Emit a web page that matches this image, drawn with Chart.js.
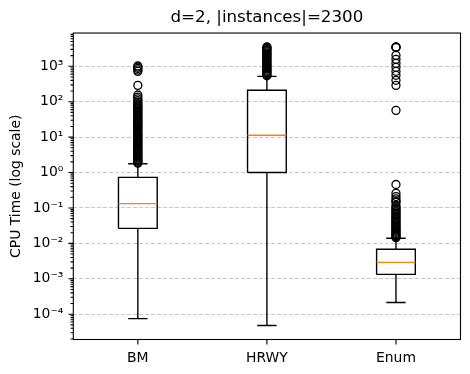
<!DOCTYPE html>
<html>
<head>
<meta charset="utf-8">
<script src="https://cdn.jsdelivr.net/npm/chart.js@4.4.0/dist/chart.umd.min.js"></script>
<style>
  html, body { margin: 0; padding: 0; background: #fff; }
  #wrap { width: 470px; height: 374px; }
</style>
</head>
<body>
<div id="wrap"><canvas id="boxChart"></canvas></div>
<script>
// Box plot data (CPU seconds)
const labels = ['BM', 'HRWY', 'Enum'];
const positions = [1, 2, 3];
const whiskerLow = [0.000075, 0.000048, 0.000215];
const q1 = [0.0265, 1.0, 0.00133];
const median = [0.133, 11.3, 0.0029];
const q3 = [0.73, 210, 0.0068];
const whiskerHigh = [1.78, 520, 0.014];

const bmOutliers = [1.85, 1.95, 2.1, 2.25, 2.4, 2.6, 2.8, 3.0, 3.25, 3.5, 3.8, 4.1, 4.4, 4.8, 5.2,
  5.6, 6.0, 6.5, 7.0, 7.6, 8.2, 8.9, 9.6, 10.4, 11.2, 12.1, 13.1, 14.2, 15.4, 16.6, 18, 19.5,
  21, 22.7, 24.5, 26.5, 28.7, 31, 33.5, 36, 39, 42, 46, 50, 54, 58, 63, 68, 74, 80, 88, 97,
  108, 120, 135, 155, 290, 720, 790, 870, 950, 1020];
const hrwyOutliers = [540, 580, 620, 670, 720, 780, 840, 910, 980, 1060, 1150, 1250, 1350, 1460,
  1580, 1710, 1850, 2000, 2170, 2350, 2550, 2750, 2980, 3200, 3400, 3520];
const enumOutliers = [0.0145, 0.0155, 0.0165, 0.0175, 0.019, 0.0205, 0.022, 0.024, 0.026, 0.028,
  0.030, 0.033, 0.036, 0.039, 0.042, 0.046, 0.050, 0.055, 0.060, 0.066, 0.072, 0.079, 0.087,
  0.095, 0.105, 0.118, 0.144, 0.155, 0.18, 0.21, 0.26, 0.46, 57, 290, 402, 557, 722, 937, 1215,
  1575, 2040, 3400, 3480, 3520];
const outliers = [bmOutliers, hrwyOutliers, enumOutliers];

const yTickExponents = [-5, -4, -3, -2, -1, 0, 1, 2, 3];

const FONT = "'DejaVu Sans', sans-serif";
const boxWidth = 0.3;

function isPow10(v) {
  const l = Math.log10(v);
  return Math.abs(l - Math.round(l)) < 1e-9;
}

const supMap = { '-': '\u207B', '0': '\u2070', '1': '\u00B9', '2': '\u00B2', '3': '\u00B3',
  '4': '\u2074', '5': '\u2075', '6': '\u2076', '7': '\u2077', '8': '\u2078', '9': '\u2079' };
function sup(n) {
  return String(n).split('').map(c => supMap[c]).join('');
}

// line segment dataset helper
function seg(points, color) {
  return {
    data: points,
    showLine: true,
    borderColor: color,
    borderWidth: 1.4,
    pointRadius: 0,
    fill: false,
    tension: 0,
  };
}

const datasets = [];
positions.forEach((p, i) => {
  const h = boxWidth / 2;
  const c = h / 2;
  // outliers (drawn on top)
  datasets.push({
    data: outliers[i].map(v => ({ x: p, y: v })),
    showLine: false,
    pointStyle: 'circle',
    pointRadius: 4,
    borderColor: '#000',
    borderWidth: 1.3,
    backgroundColor: 'rgba(0,0,0,0)',
  });
  datasets.push(seg([{ x: p - h, y: median[i] }, { x: p + h, y: median[i] }], '#ff7f0e'));
  datasets.push(seg([
    { x: p - h, y: q1[i] }, { x: p + h, y: q1[i] }, { x: p + h, y: q3[i] },
    { x: p - h, y: q3[i] }, { x: p - h, y: q1[i] },
  ], '#000'));
  datasets.push(seg([{ x: p, y: q1[i] }, { x: p, y: whiskerLow[i] }], '#000'));
  datasets.push(seg([{ x: p, y: q3[i] }, { x: p, y: whiskerHigh[i] }], '#000'));
  datasets.push(seg([{ x: p - c, y: whiskerLow[i] }, { x: p + c, y: whiskerLow[i] }], '#000'));
  datasets.push(seg([{ x: p - c, y: whiskerHigh[i] }, { x: p + c, y: whiskerHigh[i] }], '#000'));
});

// Frame and tick marks like matplotlib axes
const axesFrame = {
  id: 'axesFrame',
  afterDraw(chart) {
    const { ctx, chartArea: a, scales: { x, y } } = chart;
    ctx.save();
    ctx.strokeStyle = '#000';
    ctx.lineWidth = 1.1;
    ctx.beginPath();
    y.ticks.forEach(t => {
      const py = y.getPixelForValue(t.value);
      const len = isPow10(t.value) ? 4.9 : 2.8;
      ctx.moveTo(a.left, py);
      ctx.lineTo(a.left - len, py);
    });
    x.ticks.forEach(t => {
      const px = x.getPixelForValue(t.value);
      ctx.moveTo(px, a.bottom);
      ctx.lineTo(px, a.bottom + 4.9);
    });
    ctx.stroke();
    ctx.strokeRect(a.left, a.top, a.right - a.left, a.bottom - a.top);
    ctx.restore();
  }
};

const chart = new Chart(document.getElementById('boxChart'), {
  type: 'scatter',
  data: { datasets },
  plugins: [axesFrame],
  options: {
    responsive: true,
    maintainAspectRatio: false,
    animation: false,
    events: [],
    layout: { padding: { left: 0, right: 9.5, top: 0, bottom: 0 } },
    plugins: {
      legend: { display: false },
      tooltip: { enabled: false },
      title: {
        display: true,
        text: 'd=2, |instances|=2300',
        color: '#000',
        fullSize: false,
        font: { family: FONT, size: 16.7, weight: 'normal' },
        padding: { top: 8, bottom: 5 },
      },
    },
    scales: {
      x: {
        type: 'linear',
        min: 0.5,
        max: 3.5,
        grid: { display: false },
        border: { display: false },
        afterBuildTicks: scale => {
          scale.ticks = positions.map(v => ({ value: v }));
        },
        afterFit: scale => { scale.height = 34.5; },
        ticks: {
          autoSkip: false,
          maxRotation: 0,
          minRotation: 0,
          padding: 3,
          color: '#000',
          font: { family: FONT, size: 13.9 },
          callback: v => {
            const i = positions.indexOf(v);
            return i >= 0 ? labels[i] : '';
          },
        },
      },
      y: {
        type: 'logarithmic',
        min: 0.0000193,
        max: 8700,
        afterBuildTicks: scale => {
          const ticks = [];
          yTickExponents.forEach(e => {
            for (let m = 1; m <= 9; m++) {
              const v = Number(m + 'e' + e);
              if (v >= scale.min && v <= scale.max) ticks.push({ value: v });
            }
          });
          scale.ticks = ticks;
        },
        afterFit: scale => { scale.width = 73.3; },
        grid: {
          drawTicks: false,
          lineWidth: 1.1,
          color: c => (c.tick && isPow10(c.tick.value)) ? '#c8c8c8' : 'rgba(0,0,0,0)',
        },
        border: { display: false, dash: [4, 2] },
        ticks: {
          autoSkip: false,
          padding: 10,
          color: '#000',
          font: { family: FONT, size: 13.9 },
          callback: v => isPow10(v) ? '10' + sup(Math.round(Math.log10(v))) : '',
        },
        title: {
          display: true,
          text: 'CPU Time (log scale)',
          color: '#000',
          font: { family: FONT, size: 13.9 },
          padding: { top: 8, bottom: 0 },
        },
      },
    },
  },
});
</script>
</body>
</html>
